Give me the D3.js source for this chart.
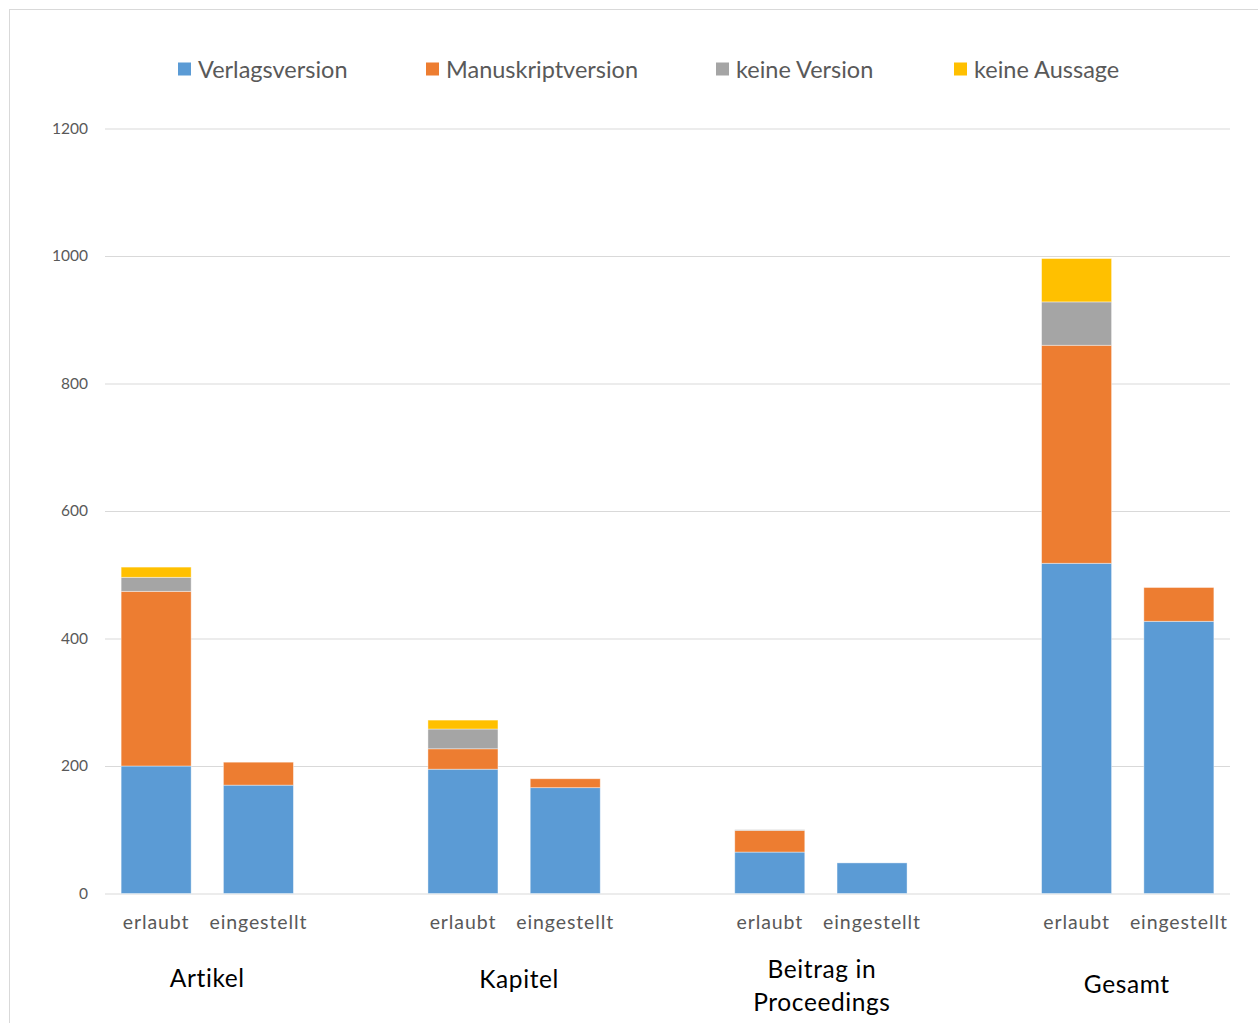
<!DOCTYPE html>
<html>
<head>
<meta charset="utf-8">
<script src="https://cdn.jsdelivr.net/npm/d3@7"></script>
<style>
  html, body { margin: 0; padding: 0; background: #fff; }
  svg { display: block; }
</style>
</head>
<body>
<svg id="chart" width="1258" height="1023"></svg>
<script>
// Publication types and the two states shown for each
const groups = ["Artikel", "Kapitel", "Beitrag in Proceedings", "Gesamt"];
const groupLines = [["Artikel"], ["Kapitel"], ["Beitrag in", "Proceedings"], ["Gesamt"]];
const states = ["erlaubt", "eingestellt"];
const seriesNames = ["Verlagsversion", "Manuskriptversion", "keine Version", "keine Aussage"];
const seriesColors = ["#5B9BD5", "#ED7D31", "#A5A5A5", "#FFC000"];

// Values per bar, ordered group by group: erlaubt, eingestellt
const verlagsversion    = [200, 170, 195, 166, 65, 48, 518, 427];
const manuskriptversion = [274,  36,  32,  14, 34,  0, 342,  53];
const keineVersion      = [ 22,   0,  31,   0,  1,  0,  68,   0];
const keineAussage      = [ 16,   0,  14,   0,  0,  0,  68,   0];
const yTicks = [0, 200, 400, 600, 800, 1000, 1200];

const rows = [];
groups.forEach((g, gi) => states.forEach((s, si) => {
  const i = gi * 2 + si;
  rows.push({ group: g, state: s,
    "Verlagsversion": verlagsversion[i],
    "Manuskriptversion": manuskriptversion[i],
    "keine Version": keineVersion[i],
    "keine Aussage": keineAussage[i] });
}));

const svg = d3.select("#chart");
const plotLeft = 105, plotRight = 1230, plotTop = 128.5, plotBottom = 893.5;

// Chart frame
svg.append("rect").attr("x", 9.5).attr("y", 9.5).attr("width", 1260).attr("height", 1030)
  .attr("fill", "none").attr("stroke", "#d9d9d9").attr("stroke-width", 1);

const y = d3.scaleLinear().domain([0, 1200]).range([plotBottom, plotTop]);
const x0 = d3.scaleBand().domain(groups).range([plotLeft, plotRight]).paddingInner(1 / 3).paddingOuter(0);
const x1 = d3.scaleBand().domain(states).range([0, x0.bandwidth()]).paddingInner(0.3154).paddingOuter(0.1577);

// Gridlines and value labels
const yAxis = d3.axisLeft(y).tickValues(yTicks).tickSize(-(plotRight - plotLeft)).tickPadding(17).tickFormat(d3.format("d"));
const gy = svg.append("g").attr("transform", `translate(${plotLeft},0)`).call(yAxis);
gy.select(".domain").remove();
gy.selectAll(".tick line").attr("stroke", "#d9d9d9").attr("stroke-width", 1.2);
gy.selectAll(".tick text").attr("fill", "#595959").attr("font-family", "Lato, 'Open Sans', sans-serif")
  .attr("font-size", 15.5);

// Stacked bars
const stack = d3.stack().keys(seriesNames);
const layers = stack(rows);
svg.append("g").selectAll("g").data(layers).join("g")
  .attr("fill", (d, i) => seriesColors[i])
  .selectAll("rect").data(d => d.filter(p => p[1] - p[0] > 0)).join("rect")
  .attr("x", d => x0(d.data.group) + x1(d.data.state))
  .attr("width", x1.bandwidth())
  .attr("y", d => y(d[1]))
  .attr("height", d => y(d[0]) - y(d[1]))
  .attr("stroke", "#ffffff").attr("stroke-opacity", 0.5).attr("stroke-width", 0.8);

// Category axis: states then group names
const catFont = "Lato, 'Open Sans', sans-serif";
const gx = svg.append("g");
rows.forEach(r => {
  gx.append("text")
    .attr("x", x0(r.group) + x1(r.state) + x1.bandwidth() / 2)
    .attr("y", 929)
    .attr("text-anchor", "middle")
    .attr("fill", "#595959").attr("font-family", catFont).attr("font-size", 19.5)
    .attr("letter-spacing", 0.9)
    .text(r.state);
});
const groupLabelY = [987, 988, 978, 993];
const groupLabelDx = [0, 5, 1, -1];
groups.forEach((g, gi) => {
  const cx = x0(g) + x0.bandwidth() / 2 + groupLabelDx[gi];
  const t = gx.append("text")
    .attr("x", cx)
    .attr("y", groupLabelY[gi])
    .attr("text-anchor", "middle")
    .attr("fill", "#000").attr("font-family", catFont).attr("font-size", 24.5)
    .attr("letter-spacing", 0.6);
  groupLines[gi].forEach((line, li) => {
    t.append("tspan").attr("x", cx).attr("dy", li === 0 ? 0 : 33).text(line);
  });
});

// Legend
const legendX = [178, 426, 716, 954];
const lg = svg.append("g");
seriesNames.forEach((name, i) => {
  lg.append("rect").attr("x", legendX[i]).attr("y", 62.5).attr("width", 13).attr("height", 13)
    .attr("fill", seriesColors[i]);
  lg.append("text").attr("x", legendX[i] + 20).attr("y", 77.5)
    .attr("fill", "#595959").attr("font-family", catFont).attr("font-size", 23.5)
    .text(name);
});
</script>
</body>
</html>
